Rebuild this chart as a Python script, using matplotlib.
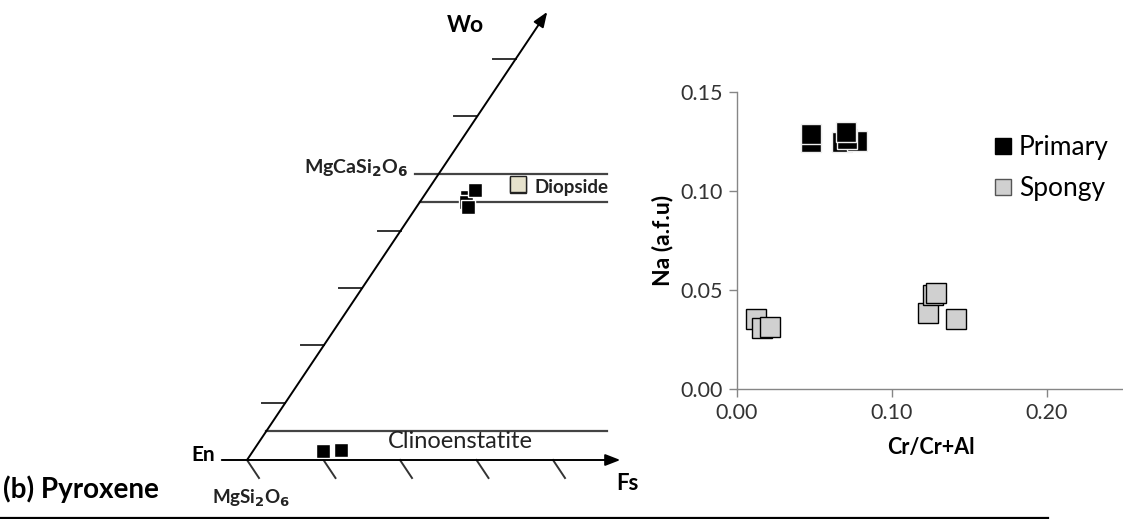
import numpy as np
import matplotlib.pyplot as plt

plt.rcParams['font.family'] = ['Lato', 'DejaVu Sans']

# ---- Na vs Cr# (right panel) ----
primary_cr = [0.048, 0.048, 0.0675, 0.0774, 0.071, 0.070]
primary_na = [0.125, 0.129, 0.125, 0.1253, 0.1265, 0.130]
spongy_cr = [0.0123, 0.0163, 0.0215, 0.123, 0.1262, 0.1284, 0.1411]
spongy_na = [0.0352, 0.0307, 0.0313, 0.0382, 0.0475, 0.0483, 0.0352]

x_ticks = [0.0, 0.1, 0.2]
y_ticks = [0.0, 0.05, 0.10, 0.15]

# ---- pyroxene diagram (left panel), in Fs % / Wo % ----
wo_ticks = [10, 20, 30, 40, 50, 60, 70]
fs_ticks = [0, 10, 20, 30, 40]
# field boundaries: (wo, fs_start, fs_end)
field_lines = [(50, -3.1, 22.0), (45, 0.0, 24.5), (5, 0.0, 44.5)]
diop_spongy = [(11.2, 48.2)]
diop_primary = [(5.7, 45.9), (6.1, 45.0), (6.7, 44.2), (6.2, 47.1)]
clino_primary = [(9.1, 1.6), (11.4, 1.7)]

W, H = 1123, 519
fig = plt.figure(figsize=(W / 100, H / 100), dpi=100)

# overlay axes in pixel units for the schematic diagram
dax = fig.add_axes([0, 0, 1, 1])
dax.set_xlim(0, W)
dax.set_ylim(H, 0)
dax.axis('off')

EN_X, EN_Y = 247, 460
FS_STEP = 7.65
WO_STEP = 5.73
SHEAR = 0.67


def tern(fs, wo):
    fs = np.asarray(fs, dtype=float)
    wo = np.asarray(wo, dtype=float)
    return EN_X + fs * FS_STEP + wo * WO_STEP * SHEAR, EN_Y - wo * WO_STEP


arrow = dict(arrowstyle='-|>,head_length=0.9,head_width=0.35',
             color='black', lw=1.4, shrinkA=0, shrinkB=0)

# Wo axis
x0, y0 = tern(0, 0)
x1, y1 = tern(0, 78.2)
dax.annotate('', xy=(x1, y1), xytext=(x0, y0), arrowprops=arrow)
for w in wo_ticks:
    tx, ty = tern(0, w)
    dax.plot([tx - 23, tx], [ty, ty], color='#333333', lw=1.4)

# Fs axis
x0, y0 = tern(-3.3, 0)
x1, y1 = tern(48.8, 0)
dax.annotate('', xy=(x1, y1), xytext=(x0, y0), arrowprops=arrow)
for f in fs_ticks:
    tx, ty = tern(f, 0)
    dax.plot([tx, tx + 12], [ty, ty + 18], color='#333333', lw=1.4)

for wo, f0, f1 in field_lines:
    lx, ly = tern([f0, f1], [wo, wo])
    dax.plot(lx, ly, color='#444444', lw=1.6)

# markers
px, py = tern([p[0] for p in clino_primary], [p[1] for p in clino_primary])
dax.plot(px, py, 's', ms=10.5, mfc='black', mec='white', mew=1.0, ls='none')
px, py = tern([p[0] for p in diop_primary], [p[1] for p in diop_primary])
dax.plot(px, py, 's', ms=10.5, mfc='black', mec='white', mew=1.0, ls='none')
px, py = tern([p[0] for p in diop_spongy], [p[1] for p in diop_spongy])
dax.plot(px + 0.5, py + 1.5, 's', ms=12, mfc='#222222', mec='#222222', ls='none')
dax.plot(px, py, 's', ms=12, mfc='#e6e2cc', mec='#222222', mew=1.0, ls='none')

# labels
dax.text(465, 25, 'Wo', fontsize=16.5, fontweight='bold', ha='center', va='center')
dax.text(408, 168, r'MgCaSi$_\mathbf{2}$O$_\mathbf{6}$', fontsize=14,
         fontweight='bold', ha='right', va='center', color='#222222')
dax.text(535, 188, 'Diopside', fontsize=13.5, fontweight='bold', ha='left',
         va='center', color='#222222')
dax.text(460, 442, 'Clinoenstatite', fontsize=17, ha='center', va='center',
         color='#222222')
dax.text(215, 455, 'En', fontsize=15, fontweight='bold', ha='right', va='center')
dax.text(627, 484, 'Fs', fontsize=16, fontweight='bold', ha='center', va='center')
dax.text(212, 498, r'MgSi$_\mathbf{2}$O$_\mathbf{6}$', fontsize=13.5,
         fontweight='bold', ha='left', va='center', color='#222222')
dax.text(3, 489, '(b) Pyroxene', fontsize=20, fontweight='bold', ha='left', va='center')
dax.plot([0, 1048], [517.5, 517.5], color='black', lw=1.6)

# ---- scatter panel ----
ax = fig.add_axes([737 / W, 130 / H, 387.5 / W, 297 / H])
ax.plot(spongy_cr, spongy_na, 's', ms=14, mfc='#d0d0d0', mec='black', mew=1.0,
        ls='none', label='Spongy')
ax.plot(primary_cr, primary_na, 's', ms=14, mfc='black', mec='#eeeeee', mew=1.0,
        ls='none', label='Primary')
ax.set_xlim(0, 0.25)
ax.set_ylim(0, 0.15)
ax.set_xticks(x_ticks)
ax.set_yticks(y_ticks)
ax.set_xticklabels([f'{v:.2f}' for v in x_ticks])
ax.set_yticklabels([f'{v:.2f}' for v in y_ticks])
for s in ['top', 'right']:
    ax.spines[s].set_visible(False)
for s in ['left', 'bottom']:
    ax.spines[s].set_color('#868686')
    ax.spines[s].set_linewidth(1.0)
ax.tick_params(direction='out', length=6, width=1, color='#868686',
               labelsize=15.5, labelcolor='#333333', pad=4)
ax.set_xlabel('Cr/Cr+Al', fontsize=15.5, fontweight='bold', labelpad=10)
ax.set_ylabel('Na (a.f.u)', fontsize=16.5, fontweight='bold', labelpad=5)
ax.patch.set_alpha(0)

leg_handles = [plt.Line2D([], [], marker='s', ms=11, mfc='black', mec='black', ls='none'),
               plt.Line2D([], [], marker='s', ms=11, mfc='#d0d0d0', mec='#555555', ls='none')]
fig.legend(leg_handles, ['Primary', 'Spongy'], loc='upper left',
           bbox_to_anchor=(982 / W, 1 - 122 / H), frameon=False, fontsize=19,
           handlelength=0.6, handletextpad=0.3, labelspacing=0.6, borderpad=0)

fig.savefig('out.png', dpi=100)
